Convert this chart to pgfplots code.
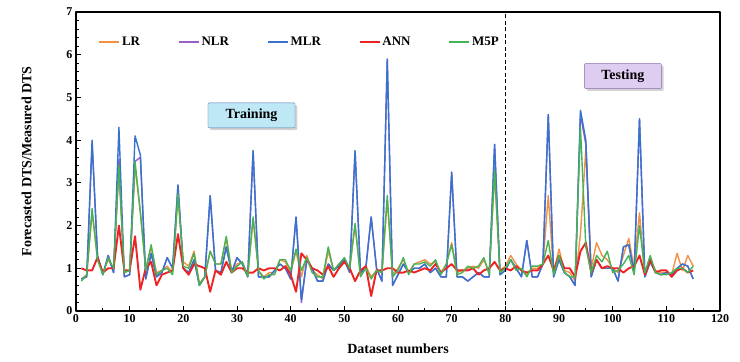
\documentclass[border=0pt]{standalone}
\usepackage{pgfplots}
\pgfplotsset{compat=1.18}
\usepackage{fontspec}
\setmainfont{Liberation Serif}
\usetikzlibrary{shadows}
\definecolor{cLR}{RGB}{240,145,70}
\definecolor{cNLR}{RGB}{150,95,200}
\definecolor{cMLR}{RGB}{55,115,205}
\definecolor{cANN}{RGB}{238,35,35}
\definecolor{cM5P}{RGB}{70,180,85}
\definecolor{trainfill}{RGB}{190,232,245}
\definecolor{testfill}{RGB}{222,205,240}
\begin{document}
\begin{tikzpicture}
\begin{axis}[
  scale only axis, width=644pt, height=299pt,
  xmin=0, xmax=120, ymin=0, ymax=7,
  xtick={0,10,...,120}, ytick={0,1,...,7},
  minor x tick num=1, minor y tick num=4,
  tick align=inside, xtick pos=bottom, ytick pos=left,
  major tick length=5pt, minor tick length=3pt,
  tick style={black, thick},
  axis line style={black, line width=1.1pt},
  /pgf/number format/assume math mode=true,
  ticklabel style={font=\bfseries\fontsize{12}{13}\selectfont},
  xlabel={\bfseries\fontsize{14}{15}\selectfont Dataset numbers},
  ylabel={\bfseries\fontsize{14}{15}\selectfont Forecasted DTS/Measured DTS},
  xlabel style={yshift=-14pt},
  ylabel style={yshift=28pt},
  legend style={draw=none, fill=none, at={(0.03,0.90)}, anchor=west,
    font=\bfseries\fontsize{13}{14}\selectfont, /tikz/every even column/.append style={column sep=36pt}},
  legend columns=5,
  legend image code/.code={\draw[#1, line width=1.6pt] (0cm,0cm) -- (0.7cm,0cm);},
  line join=round,
]
\addplot[cLR, line width=1.4pt] coordinates {
(1,0.75)(2,0.85)(3,2.3)(4,1.25)(5,0.9)(6,1.2)(7,1.0)(8,3.3)(9,0.9)(10,0.95)
(11,3.4)(12,2.3)(13,1.0)(14,1.5)(15,0.9)(16,0.95)(17,1.05)(18,0.9)(19,2.7)(20,1.15)
(21,1.05)(22,1.4)(23,0.65)(24,0.8)(25,1.4)(26,1.1)(27,1.1)(28,1.7)(29,0.95)(30,1.1)
(31,1.15)(32,0.85)(33,2.15)(34,0.95)(35,0.8)(36,0.9)(37,0.9)(38,1.2)(39,1.15)(40,0.9)
(41,1.4)(42,0.8)(43,1.3)(44,0.95)(45,0.85)(46,0.75)(47,1.4)(48,0.95)(49,1.1)(50,1.2)
(51,1.0)(52,2.0)(53,0.85)(54,1.05)(55,0.8)(56,0.95)(57,0.9)(58,2.6)(59,0.85)(60,1.0)
(61,1.2)(62,0.9)(63,1.1)(64,1.15)(65,1.2)(66,1.1)(67,1.15)(68,0.9)(69,1.1)(70,1.6)
(71,0.9)(72,0.95)(73,1.0)(74,1.05)(75,1.0)(76,1.2)(77,0.9)(78,3.2)(79,0.95)(80,1.05)
(81,1.3)(82,1.1)(83,0.95)(84,0.85)(85,1.0)(86,1.0)(87,1.1)(88,2.7)(89,0.9)(90,1.45)
(91,0.95)(92,0.9)(93,0.7)(94,1.8)(95,3.8)(96,1.0)(97,1.6)(98,1.3)(99,1.2)(100,1.0)
(101,0.9)(102,1.3)(103,1.7)(104,1.0)(105,2.3)(106,0.8)(107,1.2)(108,0.95)(109,0.9)(110,0.9)
(111,0.85)(112,1.35)(113,0.95)(114,1.3)(115,1.05)
};
\addlegendentry{LR}
\addplot[cNLR, line width=1.4pt] coordinates {
(1,0.75)(2,0.8)(3,3.95)(4,1.3)(5,0.85)(6,1.3)(7,0.9)(8,3.55)(9,0.8)(10,0.85)
(11,3.5)(12,3.6)(13,0.75)(14,1.35)(15,0.8)(16,0.9)(17,1.25)(18,1.0)(19,2.95)(20,1.0)
(21,0.9)(22,1.2)(23,0.6)(24,0.8)(25,2.7)(26,0.95)(27,0.9)(28,1.5)(29,0.9)(30,1.25)
(31,1.1)(32,0.8)(33,3.75)(34,0.8)(35,0.8)(36,0.8)(37,0.95)(38,1.1)(39,1.0)(40,0.75)
(41,2.2)(42,0.2)(43,1.2)(44,1.0)(45,0.7)(46,0.7)(47,1.1)(48,0.95)(49,1.05)(50,1.2)
(51,0.9)(52,3.75)(53,0.9)(54,1.0)(55,2.2)(56,1.0)(57,0.7)(58,5.9)(59,0.6)(60,0.85)
(61,1.1)(62,0.9)(63,1.0)(64,1.0)(65,1.1)(66,0.9)(67,1.0)(68,0.8)(69,0.8)(70,3.25)
(71,0.8)(72,0.8)(73,0.7)(74,0.8)(75,0.9)(76,0.8)(77,0.8)(78,3.9)(79,0.85)(80,0.95)
(81,1.2)(82,1.0)(83,0.8)(84,1.65)(85,0.8)(86,0.8)(87,1.1)(88,4.6)(89,0.8)(90,1.2)
(91,0.9)(92,0.8)(93,0.6)(94,4.6)(95,3.9)(96,0.8)(97,1.2)(98,1.0)(99,1.0)(100,1.0)
(101,0.7)(102,1.5)(103,1.55)(104,0.9)(105,4.5)(106,0.8)(107,1.15)(108,0.9)(109,0.85)(110,0.9)
(111,0.85)(112,1.0)(113,1.1)(114,1.05)(115,0.75)
};
\addlegendentry{NLR}
\addplot[cMLR, line width=1.4pt] coordinates {
(1,0.75)(2,0.8)(3,4.0)(4,1.3)(5,0.85)(6,1.3)(7,0.9)(8,4.3)(9,0.8)(10,0.85)
(11,4.1)(12,3.65)(13,0.75)(14,1.35)(15,0.8)(16,0.9)(17,1.25)(18,1.0)(19,2.95)(20,1.0)
(21,0.9)(22,1.2)(23,0.6)(24,0.8)(25,2.7)(26,0.95)(27,0.9)(28,1.5)(29,0.9)(30,1.25)
(31,1.1)(32,0.8)(33,3.75)(34,0.8)(35,0.8)(36,0.8)(37,0.95)(38,1.1)(39,1.0)(40,0.75)
(41,2.2)(42,0.25)(43,1.2)(44,1.0)(45,0.7)(46,0.7)(47,1.1)(48,0.95)(49,1.05)(50,1.2)
(51,0.9)(52,3.75)(53,0.9)(54,1.0)(55,2.2)(56,1.0)(57,0.7)(58,5.9)(59,0.6)(60,0.85)
(61,1.1)(62,0.9)(63,1.0)(64,1.0)(65,1.1)(66,0.9)(67,1.0)(68,0.8)(69,0.8)(70,3.25)
(71,0.8)(72,0.8)(73,0.7)(74,0.8)(75,0.9)(76,0.8)(77,0.8)(78,3.9)(79,0.85)(80,0.95)
(81,1.2)(82,1.0)(83,0.8)(84,1.65)(85,0.8)(86,0.8)(87,1.1)(88,4.6)(89,0.8)(90,1.2)
(91,0.9)(92,0.8)(93,0.6)(94,4.7)(95,4.0)(96,0.8)(97,1.2)(98,1.0)(99,1.0)(100,1.0)
(101,0.7)(102,1.5)(103,1.55)(104,0.9)(105,4.5)(106,0.8)(107,1.15)(108,0.9)(109,0.85)(110,0.9)
(111,0.85)(112,1.0)(113,1.1)(114,1.05)(115,0.75)
};
\addlegendentry{MLR}
\addplot[cANN, line width=1.9pt] coordinates {
(1,1.0)(2,0.95)(3,0.95)(4,1.25)(5,0.9)(6,1.0)(7,1.0)(8,2.0)(9,0.95)(10,0.95)
(11,1.75)(12,0.5)(13,1.0)(14,1.15)(15,0.6)(16,0.85)(17,0.9)(18,0.95)(19,1.8)(20,1.0)
(21,0.85)(22,1.1)(23,1.05)(24,1.0)(25,0.45)(26,0.95)(27,0.85)(28,1.15)(29,0.9)(30,1.0)
(31,1.0)(32,0.9)(33,0.9)(34,1.0)(35,0.95)(36,1.0)(37,1.0)(38,0.95)(39,1.05)(40,0.85)
(41,0.45)(42,1.35)(43,1.2)(44,1.0)(45,0.95)(46,0.85)(47,1.05)(48,0.8)(49,1.0)(50,1.15)
(51,1.0)(52,0.7)(53,0.95)(54,1.05)(55,0.35)(56,0.95)(57,0.95)(58,1.0)(59,1.0)(60,0.9)
(61,0.9)(62,0.95)(63,0.9)(64,0.95)(65,1.0)(66,0.95)(67,1.1)(68,0.9)(69,1.0)(70,1.1)
(71,0.95)(72,0.95)(73,0.95)(74,1.0)(75,0.85)(76,0.95)(77,1.0)(78,1.15)(79,0.95)(80,1.0)
(81,0.95)(82,1.05)(83,0.95)(84,0.9)(85,0.95)(86,0.95)(87,1.1)(88,1.3)(89,0.95)(90,1.3)
(91,1.0)(92,1.0)(93,0.8)(94,1.4)(95,1.6)(96,0.9)(97,1.2)(98,1.0)(99,1.05)(100,1.0)
(101,1.0)(102,0.9)(103,1.0)(104,1.05)(105,1.3)(106,0.85)(107,1.2)(108,0.9)(109,0.95)(110,0.95)
(111,0.8)(112,0.95)(113,1.0)(114,0.9)(115,0.95)
};
\addlegendentry{ANN}
\addplot[cM5P, line width=1.4pt] coordinates {
(1,0.7)(2,0.85)(3,2.4)(4,1.2)(5,0.85)(6,1.25)(7,1.0)(8,3.4)(9,0.9)(10,0.95)
(11,3.5)(12,2.3)(13,0.95)(14,1.55)(15,0.85)(16,0.95)(17,1.0)(18,0.85)(19,2.75)(20,1.05)
(21,1.0)(22,1.35)(23,0.6)(24,0.8)(25,1.4)(26,1.1)(27,1.1)(28,1.75)(29,0.9)(30,1.05)
(31,1.15)(32,0.8)(33,2.2)(34,0.95)(35,0.75)(36,0.85)(37,0.85)(38,1.2)(39,1.2)(40,0.95)
(41,1.45)(42,0.95)(43,1.25)(44,0.9)(45,0.8)(46,0.8)(47,1.5)(48,0.95)(49,1.1)(50,1.25)
(51,1.0)(52,2.05)(53,0.8)(54,1.0)(55,0.75)(56,0.95)(57,0.9)(58,2.7)(59,0.8)(60,0.95)
(61,1.25)(62,0.85)(63,1.1)(64,1.1)(65,1.15)(66,1.05)(67,1.2)(68,0.85)(69,1.1)(70,1.55)
(71,0.85)(72,0.9)(73,1.05)(74,1.0)(75,1.05)(76,1.25)(77,0.85)(78,3.3)(79,0.9)(80,1.0)
(81,1.2)(82,0.95)(83,1.0)(84,0.8)(85,1.05)(86,1.05)(87,1.1)(88,1.65)(89,0.85)(90,1.3)
(91,0.9)(92,0.8)(93,0.8)(94,4.3)(95,1.5)(96,0.9)(97,1.3)(98,1.15)(99,1.4)(100,0.9)
(101,0.95)(102,1.1)(103,1.3)(104,0.85)(105,2.0)(106,0.9)(107,1.3)(108,0.9)(109,0.85)(110,0.85)
(111,0.9)(112,1.0)(113,1.0)(114,0.9)(115,1.05)
};
\addlegendentry{M5P}
\draw[black, dash pattern=on 4pt off 2.5pt, line width=1.3pt] (axis cs:80,0) -- (axis cs:80,7);
\node[draw=cMLR!60!gray, fill=trainfill, rounded corners=1pt, drop shadow={opacity=0.35},
  minimum width=87pt, minimum height=25pt, font=\bfseries\fontsize{14}{15}\selectfont]
  at (axis cs:32.7,4.58) {Training};
\node[draw=cNLR!70!gray, fill=testfill, rounded corners=1pt, drop shadow={opacity=0.35},
  minimum width=77pt, minimum height=25pt, font=\bfseries\fontsize{14}{15}\selectfont]
  at (axis cs:101.9,5.5) {Testing};
\end{axis}
\path ([xshift=-76pt,yshift=-50pt]current axis.south west) rectangle ([xshift=20pt,yshift=12pt]current axis.north east);
\end{tikzpicture}
\end{document}
